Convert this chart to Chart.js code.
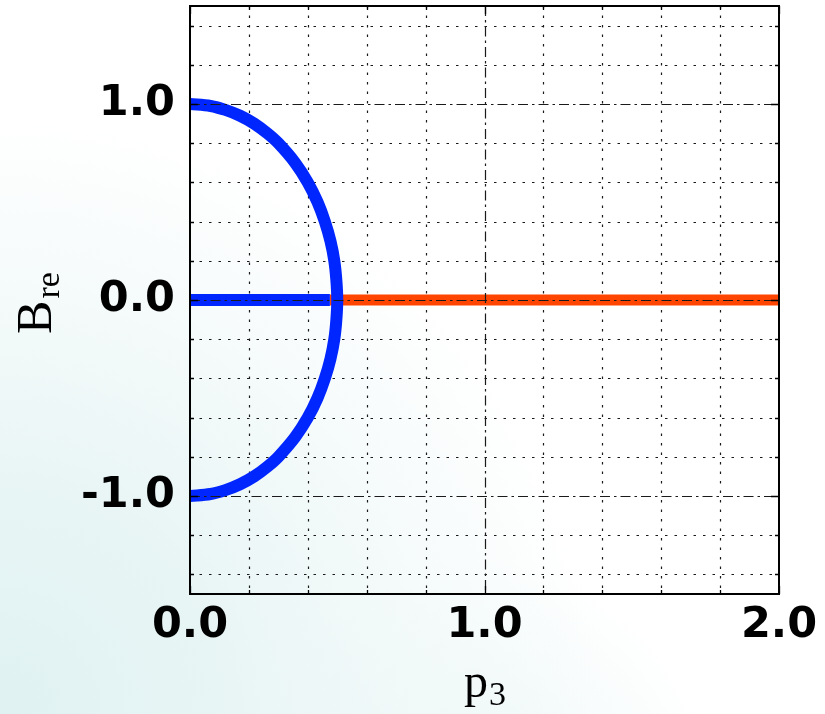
<!DOCTYPE html>
<html>
<head>
<meta charset="utf-8">
<script src="https://cdn.jsdelivr.net/npm/chart.js@4.4.1/dist/chart.umd.min.js"></script>
<style>
  html, body { margin: 0; padding: 0; }
  body {
    width: 825px; height: 714px; overflow: hidden;
    background:
      radial-gradient(circle at 0% 100%, rgba(222,241,241,0.95) 0px, rgba(228,243,243,0.85) 220px, rgba(238,247,247,0.6) 420px, rgba(255,255,255,0) 600px),
      radial-gradient(circle at 58% 112%, rgba(230,244,244,0.7) 0px, rgba(255,255,255,0) 240px),
      #ffffff;
  }
  #wrap { position: absolute; left: 0; top: 0; width: 825px; height: 714px; }
</style>
</head>
<body>
<div id="wrap"><canvas id="c" width="825" height="714"></canvas></div>
<script>
// ---- data ----
const arcB   = [1.0, 0.99, 0.97, 0.94, 0.9, 0.85, 0.8, 0.7, 0.6, 0.5, 0.4, 0.3, 0.2, 0.1, 0.0,
               -0.1, -0.2, -0.3, -0.4, -0.5, -0.6, -0.7, -0.8, -0.85, -0.9, -0.94, -0.97, -0.99, -1.0];
const arcP3  = [0.0, 0.07, 0.12, 0.17, 0.218, 0.263, 0.30, 0.357, 0.40, 0.433, 0.458, 0.477, 0.49, 0.497, 0.50,
               0.497, 0.49, 0.477, 0.458, 0.433, 0.40, 0.357, 0.30, 0.263, 0.218, 0.17, 0.12, 0.07, 0.0];
const blueFlatP3   = [0.0, 0.475];
const blueFlatB    = [0.0, 0.0];
const orangeFlatP3 = [0.475, 2.0];
const orangeFlatB  = [0.0, 0.0];
const xTicks = [0.0, 0.2, 0.4, 0.6, 0.8, 1.0, 1.2, 1.4, 1.6, 1.8, 2.0];
const yTicks = [-1.4, -1.2, -1.0, -0.8, -0.6, -0.4, -0.2, 0.0, 0.2, 0.4, 0.6, 0.8, 1.0, 1.2, 1.4];
const xTickLabels = ['0.0', '1.0', '2.0'];
const yTickLabels = ['-1.0', '0.0', '1.0'];
const xTitle = ['p', '3'];
const yTitle = ['B', 're'];

const toPts = (xs, ys) => xs.map((v, i) => ({ x: v, y: ys[i] }));
const isMajor = v => Math.abs(v - Math.round(v)) < 1e-6;
const DOT = [2.5, 7];
const DASHDOT = [10, 4, 2.5, 4];

function drawGrid(chart, major) {
  const { ctx, chartArea: a, scales: { x, y } } = chart;
  ctx.save();
  ctx.strokeStyle = '#1a1a1a';
  ctx.lineWidth = 1.2;
  ctx.setLineDash(major ? DASHDOT : DOT);
  x.ticks.forEach(t => {
    const v = t.value;
    if (isMajor(v) !== major) return;
    const px = Math.round(x.getPixelForValue(v)) + 0.5;
    if (px <= a.left + 1 || px >= a.right - 1) return;
    ctx.beginPath(); ctx.moveTo(px, a.top); ctx.lineTo(px, a.bottom); ctx.stroke();
  });
  y.ticks.forEach(t => {
    const v = t.value;
    if (isMajor(v) !== major) return;
    const py = Math.round(y.getPixelForValue(v)) + 0.5;
    if (py <= a.top + 1 || py >= a.bottom - 1) return;
    ctx.beginPath(); ctx.moveTo(a.left, py); ctx.lineTo(a.right, py); ctx.stroke();
  });
  ctx.restore();
}

const gridPlugin = {
  id: 'mplGrid',
  beforeDatasetsDraw(chart) { drawGrid(chart, false); },
  afterDatasetsDraw(chart) {
    drawGrid(chart, true);
    const { ctx, chartArea: a, scales: { x, y } } = chart;
    ctx.save();
    // inward ticks on all four sides
    ctx.strokeStyle = '#000';
    ctx.lineWidth = 1.3;
    x.ticks.forEach(t => {
      const v = t.value;
      const px = Math.round(x.getPixelForValue(v)) + 0.5;
      const L = isMajor(v) ? 8 : 4;
      ctx.beginPath();
      ctx.moveTo(px, a.bottom); ctx.lineTo(px, a.bottom - L);
      ctx.moveTo(px, a.top); ctx.lineTo(px, a.top + L);
      ctx.stroke();
    });
    y.ticks.forEach(t => {
      const v = t.value;
      const py = Math.round(y.getPixelForValue(v)) + 0.5;
      const L = isMajor(v) ? 8 : 4;
      ctx.beginPath();
      ctx.moveTo(a.left, py); ctx.lineTo(a.left + L, py);
      ctx.moveTo(a.right, py); ctx.lineTo(a.right - L, py);
      ctx.stroke();
    });
    // frame
    ctx.lineWidth = 2;
    ctx.strokeStyle = '#000';
    ctx.strokeRect(a.left, a.top, a.right - a.left, a.bottom - a.top);
    ctx.restore();
  },
  afterDraw(chart) {
    const { ctx, chartArea: a } = chart;
    const serif = '"Liberation Serif", "DejaVu Serif", serif';
    ctx.save();
    ctx.fillStyle = '#000';
    ctx.textBaseline = 'alphabetic';
    ctx.textAlign = 'left';
    // x title p_3
    const cx = (a.left + a.right) / 2;
    ctx.font = '48px ' + serif;
    const wp = ctx.measureText(xTitle[0]).width;
    ctx.font = '34px ' + serif;
    const w3 = ctx.measureText(xTitle[1]).width;
    const sx = cx - (wp + w3) / 2;
    ctx.font = '48px ' + serif;
    ctx.fillText(xTitle[0], sx, 697);
    ctx.font = '34px ' + serif;
    ctx.fillText(xTitle[1], sx + wp + 1, 705);
    // y title B_re (rotated)
    const cy = (a.top + a.bottom) / 2 + 3;
    ctx.translate(51, cy);
    ctx.rotate(-Math.PI / 2);
    ctx.font = '50px ' + serif;
    const wb = ctx.measureText(yTitle[0]).width;
    ctx.font = '34px ' + serif;
    const wr = ctx.measureText(yTitle[1]).width;
    const bx = -(wb + wr + 2) / 2;
    ctx.font = '50px ' + serif;
    ctx.fillText(yTitle[0], bx, 0);
    ctx.font = '34px ' + serif;
    ctx.fillText(yTitle[1], bx + wb + 2, 8);
    ctx.restore();
  }
};

const tickFont = { family: '"DejaVu Sans", sans-serif', size: 43, weight: 'bold' };

new Chart(document.getElementById('c'), {
  type: 'scatter',
  data: {
    datasets: [
      { data: toPts(arcP3, arcB), showLine: true, borderColor: '#0026ff', borderWidth: 12,
        pointRadius: 0, tension: 0.35, borderCapStyle: 'butt', borderJoinStyle: 'round' },
      { data: toPts(blueFlatP3, blueFlatB), showLine: true, borderColor: '#0026ff', borderWidth: 12,
        pointRadius: 0, borderCapStyle: 'butt' },
      { data: toPts(orangeFlatP3, orangeFlatB), showLine: true, borderColor: '#ff4500', borderWidth: 11,
        pointRadius: 0, borderCapStyle: 'butt' }
    ]
  },
  options: {
    responsive: false,
    animation: false,
    events: [],
    layout: { padding: { top: 6, right: 46, left: 0, bottom: 0 } },
    plugins: { legend: { display: false }, tooltip: { enabled: false } },
    scales: {
      x: {
        type: 'linear', min: 0, max: 2,
        grid: { display: false, drawTicks: false },
        border: { display: false },
        afterBuildTicks: s => { s.ticks = xTicks.map(v => ({ value: v })); },
        ticks: {
          autoSkip: false, maxRotation: 0, minRotation: 0,
          color: '#000', font: tickFont, padding: 6,
          callback: v => isMajor(v) ? xTickLabels[Math.round(v)] : ''
        },
        afterFit: s => { s.height = 120; s.paddingLeft = 0; s.paddingRight = 0; }
      },
      y: {
        type: 'linear', min: -1.5, max: 1.5,
        grid: { display: false, drawTicks: false },
        border: { display: false },
        afterBuildTicks: s => { s.ticks = yTicks.map(v => ({ value: v })); },
        ticks: {
          autoSkip: false,
          color: '#000', font: tickFont, padding: 15,
          callback: v => isMajor(v) ? yTickLabels[Math.round(v) + 1] : ''
        },
        afterFit: s => { s.width = 190; s.paddingTop = 0; s.paddingBottom = 0; }
      }
    }
  },
  plugins: [gridPlugin]
});
</script>
</body>
</html>
